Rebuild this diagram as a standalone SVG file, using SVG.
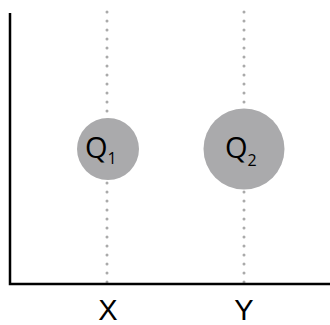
<svg xmlns="http://www.w3.org/2000/svg" width="330" height="325" viewBox="0 0 330 325">
<style>
.guide{stroke:#aaaaaa;stroke-width:3;stroke-linecap:round;stroke-dasharray:0 9;fill:none}
.axis{stroke:#000;stroke-width:2.5;fill:none}
.node{fill:#aaaaac}
.q{font-family:"Open Sans",sans-serif;font-size:29px;font-weight:500;fill:#000}
.sub{font-size:16px}
.lbl{font-family:"Liberation Sans",Arial,sans-serif;font-size:29px;fill:#000;text-anchor:middle}
</style>
<g id="connectors">
<line class="guide" x1="107" y1="12" x2="107" y2="283"/>
<line class="guide" x1="244" y1="12" x2="244" y2="283"/>
<polyline class="axis" points="10,13 10,284 330,284"/>
</g>
<g id="q1">
<circle class="node" cx="108" cy="149" r="31"/>
<text class="q" x="85" y="158">Q<tspan class="sub" dy="6">1</tspan></text>
</g>
<g id="q2">
<circle class="node" cx="244" cy="149" r="40.5"/>
<text class="q" x="225" y="158">Q<tspan class="sub" dy="8">2</tspan></text>
</g>
<g id="labels">
<text class="lbl" x="108" y="320">X</text>
<text class="lbl" x="244" y="320">Y</text>
</g>
</svg>
